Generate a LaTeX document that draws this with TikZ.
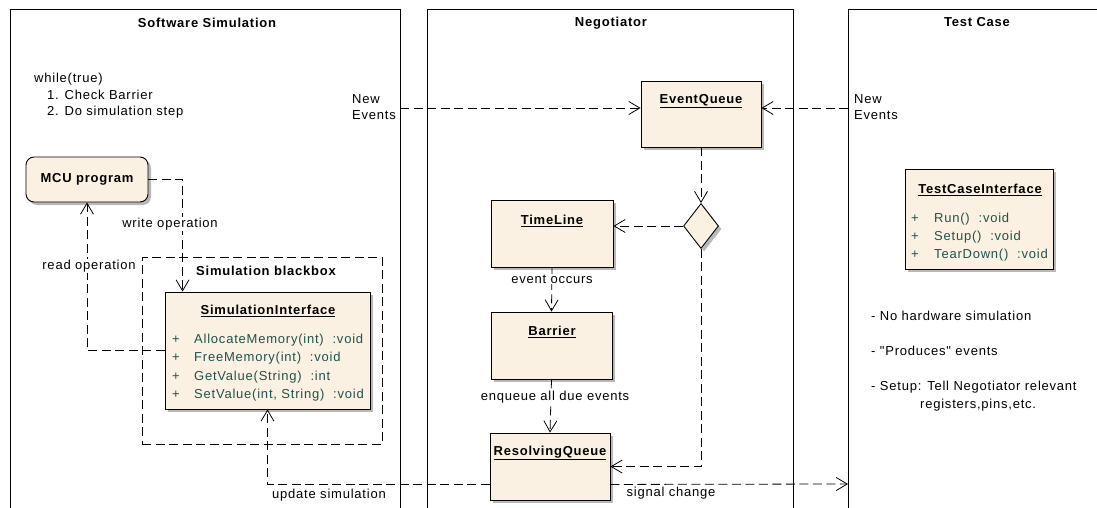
\documentclass[tikz,border=0pt]{standalone}
\usepackage{fontspec}
\setmainfont{Liberation Sans}[LetterSpace=6]
\newfontfamily\quotefont{Liberation Sans}[LetterSpace=6]
\usepackage{xcolor}
\usetikzlibrary{positioning,arrows.meta,shapes.geometric,shadows,calc}
\definecolor{clsfill}{RGB}{251,241,226}
\definecolor{opcol}{RGB}{30,82,78}

\begin{document}
\begin{tikzpicture}[x=1pt, y=-1pt, font=\fontsize{13}{16.5}\selectfont,
  panel/.style={line width=0.8pt},
  cls/.style={draw, line width=0.9pt, fill=clsfill, inner sep=0pt,
    drop shadow={shadow xshift=3pt, shadow yshift=-3pt, fill=black!28, opacity=1}},
  ttl/.style={font=\fontsize{13}{16}\selectfont\bfseries, inner sep=1pt},
  op/.style={text=opcol, anchor=west, inner sep=0pt},
  lab/.style={inner sep=1pt, fill=white},
  note/.style={anchor=west, inner sep=0pt, align=left},
  dep/.style={dash pattern=on 9pt off 4.5pt, line width=0.8pt,
    -{Straight Barb[length=11pt, width=13pt]}}]
\useasboundingbox (0,0) rectangle (1097,508);
\begin{scope}
  \draw[panel] (10,508) -- (10,9) -| (400,508);
  \node[ttl] (swsim) at (207,23) {Software Simulation};
  \node[note, anchor=north west] (loop) at (34,73) {while(true)\\
    \hspace*{13pt}1. Check Barrier\\ \hspace*{13pt}2. Do simulation step};
  \node[cls, rounded corners=8pt, minimum width=122pt, minimum height=45pt,
    font=\fontsize{13}{16}\selectfont\bfseries] (mcu) at (87,179.5) {MCU program};
  \node[draw, dash pattern=on 9pt off 4.5pt, line width=0.8pt, minimum width=240pt,
    minimum height=187pt, inner sep=0pt] (bbox) at (262,350.5) {};
  \node[ttl, anchor=west] (bboxlab) at (195,271) {Simulation blackbox};
  \node[cls, minimum width=205pt, minimum height=117pt] (simif) at (267.5,350.5) {};
  \node[ttl] at (268,311) {\underline{SimulationInterface}};
  \node[op] at (172,340) {+}; \node[op] at (194,340) {AllocateMemory(int) \ :void};
  \node[op] at (172,358) {+}; \node[op] at (194,358) {FreeMemory(int) \ :void};
  \node[op] at (172,377) {+}; \node[op] at (194,377) {GetValue(String) \ :int};
  \node[op] at (172,395) {+}; \node[op] at (194,395) {SetValue(int, String) \ :void};
\end{scope}
\begin{scope}
  \draw[panel] (427,508) -- (427,9) -| (793,508);
  \node[ttl] (negot) at (611,23) {Negotiator};
  \node[note] (newl) at (352,107) {New\\Events};
  \node[cls, minimum width=120pt, minimum height=66pt] (evq) at (701,114) {};
  \node[ttl] at (701,101) {\underline{EventQueue}};
  \node[cls, diamond, minimum width=35pt, minimum height=45pt] (dec) at (701,226) {};
  \node[cls, minimum width=122pt, minimum height=67pt] (tl) at (552,233.5) {};
  \node[ttl] at (552,221) {\underline{TimeLine}};
  \node[cls, minimum width=121pt, minimum height=67pt] (bar) at (551.5,345.5) {};
  \node[ttl] at (552,332) {\underline{Barrier}};
  \node[cls, minimum width=120pt, minimum height=67pt] (resq) at (550,466.5) {};
  \node[ttl] at (550,453) {\underline{ResolvingQueue}};
\end{scope}
\begin{scope}
  \draw[panel] (848,508) -- (848,9) -- (1097,9);
  \node[ttl] (tcase) at (977,22) {Test Case};
  \node[note] (newr) at (854,107) {New\\Events};
  \node[cls, minimum width=148pt, minimum height=100pt] (tci) at (979,219) {};
  \node[ttl] at (980,190) {\underline{TestCaseInterface}};
  \node[op] at (911,219) {+}; \node[op] at (934,219) {Run() \ :void};
  \node[op] at (911,237) {+}; \node[op] at (934,237) {Setup() \ :void};
  \node[op] at (911,255) {+}; \node[op] at (934,255) {TearDown() \ :void};
  \node[note] (n1) at (871,316) {- No hardware simulation};
  \node[note, font=\fontsize{13}{16.5}\quotefont] (n2) at (871,351) {- "Produces" events};
  \node[note] (n3) at (871,387) {- Setup: Tell Negotiator relevant};
  \node[note] (n4) at (920,405) {registers,pins,etc.};
\end{scope}
\coordinate (evlin) at (400,108);
\coordinate (evrin) at (848,108);
\coordinate (wrin) at ($(simif.north west)+(18,0)$);
\coordinate (rqin) at ($(resq.north east)+(0,34)$);
\coordinate (updout) at ($(resq.south west)+(0,-16)$);
\coordinate (sigout) at ($(resq.south east)+(0,-16)$);
\coordinate (sigin) at (848,484);
\draw[dep] (evlin) -- (evlin -| evq.west);
\draw[dep] (evrin) -- (evrin -| evq.east);
\draw[dep] (evq.south) -- (dec.north);
\draw[dep] (dec.west) -- (dec.west -| tl.east);
\draw[dep] (dec.south) |- (rqin);
\draw[dep] (tl.south) -- (bar.north);
\draw[dep] (bar.south) -- (resq.north);
\draw[dep] (mcu.east) -| (wrin);
\draw[dep] (simif.west) -| (mcu.south);
\draw[dep] (updout) -| (simif.south);
\draw[dep] (sigout) -- (sigin);
\node[lab] at (552,279) {event occurs};
\node[lab] at (555,397) {enqueue all due events};
\node[lab] at (170,224) {write operation};
\node[lab] at (89,266) {read operation};
\node[lab, fill=none] at (329,495) {update simulation};
\node[lab, fill=none] at (671,493) {signal change};
\end{tikzpicture}
\end{document}
